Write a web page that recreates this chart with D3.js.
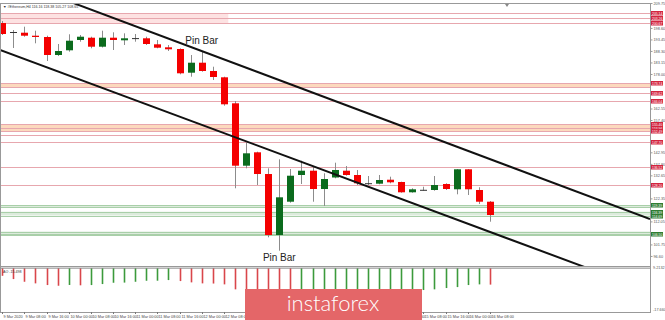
<!DOCTYPE html>
<html>
<head>
<meta charset="utf-8">
<script src="https://cdn.jsdelivr.net/npm/d3@7"></script>
<style>
body { margin: 0; background: #fff; }
svg { display: block; font-family: "Liberation Sans", Arial, sans-serif; }
</style>
</head>
<body>
<svg id="chart" width="665" height="320"></svg>
<script>
// ETH H4 candles, 9 Mar 00:00 .. 16 Mar 08:00
var open  = [200.80,196.55,196.46,195.12,194.54,186.49,188.59,193.20,194.23,190.20,194.23,193.06,193.87,193.96,191.27,189.93,189.17,178.57,183.04,179.33,176.51,164.88,136.97,142.96,133.25,105.96,120.86,132.81,134.73,126.54,131.69,134.73,132.81,129.14,128.92,130.70,129.68,125.07,126.01,126.10,128.78,126.41,135.36,126.10,120.86];
var high  = [201.70,197.67,199.15,197.36,195.12,191.41,195.75,195.43,194.67,197.36,196.64,196.19,195.88,194.67,193.20,190.96,189.48,186.49,187.96,181.25,176.78,165.91,147.25,143.23,135.80,139.83,135.49,139.20,136.52,133.57,138.31,136.83,135.05,132.36,132.81,132.05,129.81,126.86,127.57,132.36,129.10,135.49,135.49,127.31,121.17];
var low   = [195.43,189.62,194.67,191.72,183.80,186.04,187.96,192.44,189.48,189.84,188.72,190.96,192.44,190.96,189.48,188.28,177.85,176.78,179.02,175.30,163.81,126.86,135.80,128.33,104.94,98.94,120.42,128.78,120.86,118.94,131.33,132.49,128.33,128.33,128.65,129.10,124.89,124.89,125.78,125.78,126.10,124.17,123.86,119.83,111.92];
var close = [195.88,196.78,195.12,194.54,186.49,188.28,192.88,194.67,190.20,194.23,193.20,193.96,194.05,191.41,189.75,189.04,178.30,183.04,179.33,176.65,164.43,136.97,142.51,133.25,105.96,122.83,132.49,134.73,126.54,131.02,135.05,132.81,129.10,128.78,130.57,129.54,125.07,126.41,126.19,128.33,126.54,135.36,126.41,120.86,114.91];

// Awesome Oscillator
var ao = [-3.24,-4.62,-5.75,-6.43,-7.14,-7.43,-7.10,-7.25,-7.15,-6.72,-6.17,-6.10,-5.75,-5.33,-5.30,-5.04,-5.46,-6.01,-6.43,-6.50,-6.85,-8.95,-10.5,-12.0,-14.0,-15.4,-16.5,-16.2,-15.8,-15.3,-14.6,-14.0,-13.4,-12.7,-12.0,-11.3,-10.6,-9.9,-9.24,-8.95,-8.40,-8.00,-7.14,-6.85,-6.95];

// date labels, one every second bar
var dateLabels = ["9 Mar 2020","9 Mar 08:00","9 Mar 16:00","10 Mar 00:00","10 Mar 08:00","10 Mar 16:00","11 Mar 00:00","11 Mar 08:00","11 Mar 16:00","12 Mar 00:00","12 Mar 08:00","12 Mar 16:00","13 Mar 00:00","13 Mar 08:00","13 Mar 16:00","14 Mar 00:00","14 Mar 08:00","14 Mar 16:00","15 Mar 00:00","15 Mar 08:00","15 Mar 16:00","16 Mar 00:00","16 Mar 08:00"];

var priceTicks = [209.75, 198.60, 193.45, 188.30, 183.15, 178.00, 162.55, 157.40, 142.95, 137.80, 132.65, 122.35, 112.05, 101.75, 96.60];
var aoTicks = ["9.2132", "-17.660"];

// support / resistance
var resLevels   = [205.14, 203.26, 200.67, 173.74, 169.62, 166.04, 155.40, 153.96, 152.49, 147.70, 136.52, 128.20];
var resPlain    = [172.17, 150.70];
var resZone     = [200.67, 205.14, 20.4];   // lo, hi, last bar index
var orangeZones = [[172.17, 173.74], [152.49, 155.40]];
var supLevels   = [119.39, 116.39, 114.69, 106.50];
var supPlain    = [118.49, 105.96, 107.53];
var greenZones  = [[118.49, 119.39], [114.69, 116.39], [105.96, 107.53]];

// channel lines: [bar, price] pairs
var upperLine = [[5.94, 210.64], [58.45, 113.12]];
var lowerLine = [[-0.2, 188.72], [52.78, 91.21]];

var pinBars = [{i: 18, side: "top"}, {i: 25, side: "bottom"}];

var svg = d3.select("#chart");
var W = 650, mainTop = 3, mainBot = 266, aoBot = 312;

var x = d3.scaleLinear().domain([-0.2, 58.45]).range([0, W]);
var y = d3.scaleLinear().domain([92.10, 209.75]).range([mainBot, mainTop]);
var ya = d3.scaleLinear().domain([-17.66, 0.9]).range([310, 266]);

svg.append("defs").append("clipPath").attr("id", "mainclip")
    .append("rect").attr("x", 0).attr("y", mainTop).attr("width", W).attr("height", mainBot - mainTop);

var main = svg.append("g").attr("clip-path", "url(#mainclip)");

// zones
main.append("rect")
    .attr("x", 0).attr("width", x(resZone[2]))
    .attr("y", y(resZone[1])).attr("height", y(resZone[0]) - y(resZone[1]))
    .attr("fill", "#fde2e2");
main.selectAll(".oz").data(orangeZones).enter().append("rect")
    .attr("x", 0).attr("width", W)
    .attr("y", function(d) { return y(d[1]); })
    .attr("height", function(d) { return y(d[0]) - y(d[1]); })
    .attr("fill", "#fcd9bd");
main.selectAll(".gz").data(greenZones).enter().append("rect")
    .attr("x", 0).attr("width", W)
    .attr("y", function(d) { return y(d[1]); })
    .attr("height", function(d) { return y(d[0]) - y(d[1]); })
    .attr("fill", "#dcebdc");

main.selectAll(".rl").data(resLevels.concat(resPlain)).enter().append("line")
    .attr("x1", 0).attr("x2", W)
    .attr("y1", function(d) { return Math.round(y(d)) + 0.5; })
    .attr("y2", function(d) { return Math.round(y(d)) + 0.5; })
    .attr("stroke", "#e7a7ae").attr("stroke-width", 1);
main.selectAll(".sl").data(supLevels.concat(supPlain)).enter().append("line")
    .attr("x1", 0).attr("x2", W)
    .attr("y1", function(d) { return Math.round(y(d)) + 0.5; })
    .attr("y2", function(d) { return Math.round(y(d)) + 0.5; })
    .attr("stroke", "#a9cfa9").attr("stroke-width", 1);

// candles
var bars = d3.range(open.length);
main.selectAll(".wick").data(bars).enter().append("line")
    .attr("x1", function(i) { return Math.round(x(i)) + 0.5; })
    .attr("x2", function(i) { return Math.round(x(i)) + 0.5; })
    .attr("y1", function(i) { return y(high[i]); })
    .attr("y2", function(i) { return y(low[i]); })
    .attr("stroke", "#8c8c8c");

main.selectAll(".body").data(bars).enter().append("rect")
    .attr("x", function(i) { return Math.round(x(i)) - 3; })
    .attr("width", 7)
    .attr("y", function(i) { return y(Math.max(open[i], close[i])); })
    .attr("height", function(i) { return Math.max(1, Math.abs(y(open[i]) - y(close[i]))); })
    .attr("fill", function(i) {
        if (Math.abs(open[i] - close[i]) < 0.5) return "#333";
        return close[i] > open[i] ? "#0b6b1d" : "#f40000";
    });

// channel
var line = d3.line().x(function(d) { return x(d[0]); }).y(function(d) { return y(d[1]); });
main.selectAll(".chan").data([upperLine, lowerLine]).enter().append("path")
    .attr("d", line).attr("stroke", "#111").attr("stroke-width", 2).attr("fill", "none");

// pin bar notes
svg.selectAll(".pin").data(pinBars).enter().append("text")
    .attr("x", function(d) { return x(d.i); })
    .attr("y", function(d) { return d.side == "top" ? y(high[d.i]) - 8 : y(low[d.i]) + 10; })
    .attr("text-anchor", "middle")
    .attr("font-size", 10).attr("fill", "#222")
    .text("Pin Bar");

// AO
svg.selectAll(".ao").data(bars).enter().append("line")
    .attr("x1", function(i) { return Math.round(x(i)) + 0.5; })
    .attr("x2", function(i) { return Math.round(x(i)) + 0.5; })
    .attr("y1", ya(0))
    .attr("y2", function(i) { return ya(ao[i]); })
    .attr("stroke-width", 1.6)
    .attr("stroke", function(i) { return (i > 0 && ao[i] > ao[i - 1]) ? "#3c9a3c" : "#d9464b"; });

svg.append("line").attr("x1", 0).attr("x2", W).attr("y1", ya(0)).attr("y2", ya(0))
    .attr("stroke", "#888").attr("stroke-width", 1);
svg.append("text").attr("x", 3).attr("y", 273).attr("font-size", 3.6).attr("fill", "#333")
    .text("AO -15.498");

// frames
svg.append("rect").attr("x", 0.5).attr("y", mainTop + 0.5).attr("width", W).attr("height", aoBot - mainTop)
    .attr("fill", "none").attr("stroke", "#999");
svg.append("line").attr("x1", 0).attr("x2", W).attr("y1", mainBot + 0.5).attr("y2", mainBot + 0.5).attr("stroke", "#999");

// price axis
var yAxis = d3.axisRight(y).tickValues(priceTicks).tickSize(2).tickFormat(d3.format(".2f"));
var ag = svg.append("g").attr("transform", "translate(" + (W + 0.5) + ",0)").call(yAxis);
ag.select(".domain").remove();
ag.selectAll("text").attr("font-size", 3.8).attr("fill", "#555").attr("x", 3);
ag.selectAll("line").attr("stroke", "#999");

function levelBox(vals, color) {
    var g = svg.selectAll(null).data(vals).enter().append("g")
        .attr("transform", function(d) { return "translate(" + (W + 1) + "," + (Math.round(y(d)) - 2) + ")"; });
    g.append("rect").attr("width", 12).attr("height", 4.5).attr("fill", color);
    g.append("text").attr("x", 1).attr("y", 3.6).attr("font-size", 3.4).attr("fill", "#fff")
        .text(function(d) { return d.toFixed(2); });
}
levelBox(resLevels, "#d3243f");
levelBox(supLevels, "#2f7d32");

svg.selectAll(".aot").data(aoTicks).enter().append("text")
    .attr("x", W + 3).attr("y", function(d, k) { return k == 0 ? 269 : 311; })
    .attr("font-size", 3.8).attr("fill", "#555").text(function(d) { return d; });

// time axis
var tg = svg.append("g");
tg.selectAll("line").data(dateLabels).enter().append("line")
    .attr("x1", function(d, k) { return Math.round(x(k * 2)) + 0.5; })
    .attr("x2", function(d, k) { return Math.round(x(k * 2)) + 0.5; })
    .attr("y1", aoBot).attr("y2", aoBot + 2).attr("stroke", "#777");
tg.selectAll("text").data(dateLabels).enter().append("text")
    .attr("x", function(d, k) { return Math.round(x(k * 2)) + 1.5; })
    .attr("y", 317.5).attr("font-size", 3.8).attr("fill", "#444")
    .text(function(d) { return d; });

// title
svg.append("text").attr("x", 3).attr("y", 8).attr("font-size", 3.6).attr("fill", "#333")
    .text("\u25BC #Ethereum,H4  116.16 118.38 105.27 108.65");

// shift marker
svg.append("path").attr("d", "M505,4 l4,0 l-2,3 z").attr("fill", "#888");

// watermark
svg.append("rect").attr("x", 245).attr("y", 289).attr("width", 177).attr("height", 31).attr("fill", "#e46668");
svg.append("text").attr("x", 333).attr("y", 311).attr("text-anchor", "middle")
    .attr("font-family", "Lato, sans-serif").attr("font-weight", 300).attr("font-size", 22).attr("fill", "#fff")
    .text("instaforex");
</script>
</body>
</html>
